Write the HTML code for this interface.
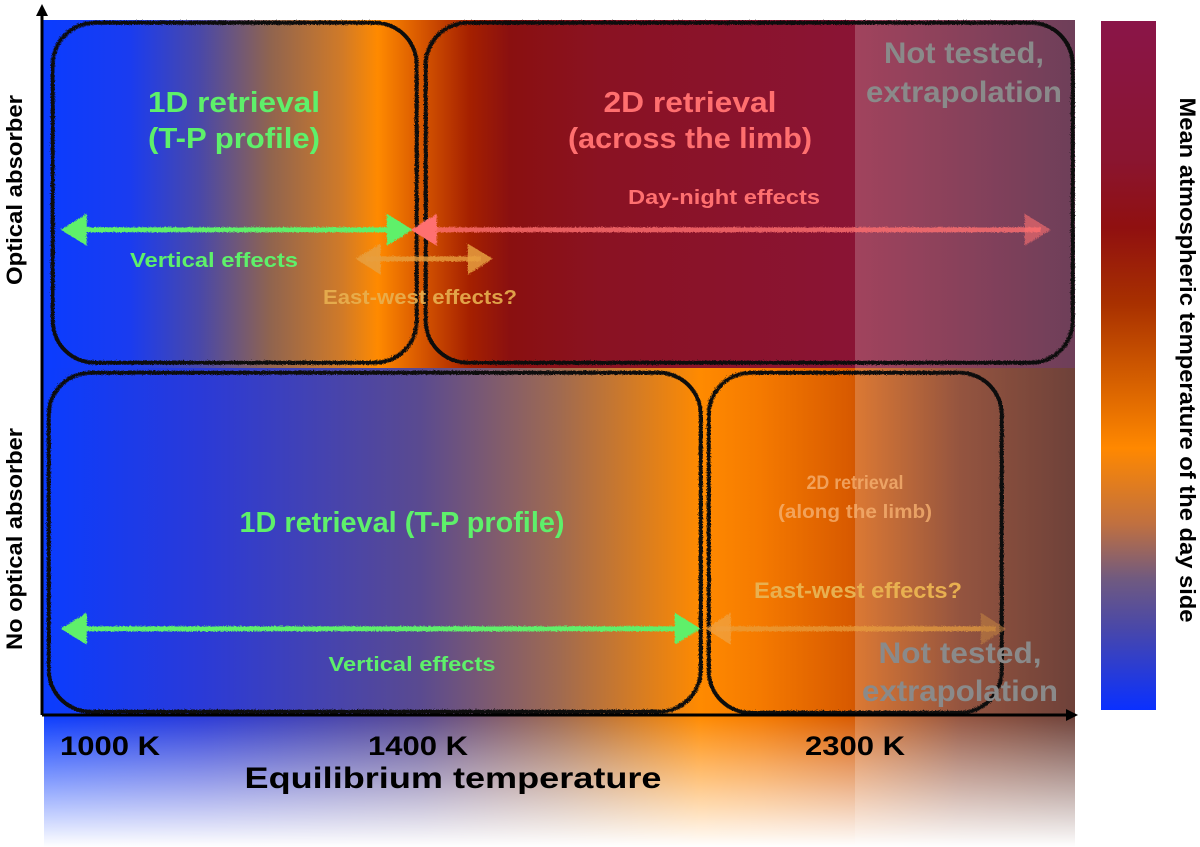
<!DOCTYPE html>
<html><head><meta charset="utf-8"><style>
html,body{margin:0;padding:0;background:#fff;}
svg{display:block;font-family:"Liberation Sans",sans-serif;font-weight:bold;}
</style></head><body>
<svg width="1200" height="847" viewBox="0 0 1200 847">
<defs>
<linearGradient id="gTop" x1="42" x2="1075" y1="0" y2="0" gradientUnits="userSpaceOnUse">
<stop offset="0" stop-color="#0a3cff"/><stop offset="0.085" stop-color="#1a3cf0"/>
<stop offset="0.153" stop-color="#4a48a8"/><stop offset="0.221" stop-color="#90644f"/>
<stop offset="0.29" stop-color="#d07a28"/><stop offset="0.325" stop-color="#ff8a00"/>
<stop offset="0.366" stop-color="#d85800"/><stop offset="0.414" stop-color="#a52000"/>
<stop offset="0.453" stop-color="#8a1010"/><stop offset="0.54" stop-color="#8a1222"/>
<stop offset="0.787" stop-color="#8a1435"/><stop offset="1" stop-color="#4a1030"/>
</linearGradient>
<linearGradient id="gBot" x1="42" x2="1075" y1="0" y2="0" gradientUnits="userSpaceOnUse">
<stop offset="0" stop-color="#0a3cff"/><stop offset="0.153" stop-color="#2a3ad8"/>
<stop offset="0.366" stop-color="#5a4a90"/><stop offset="0.501" stop-color="#a06a50"/>
<stop offset="0.637" stop-color="#ff8a00"/><stop offset="0.695" stop-color="#f57a00"/>
<stop offset="0.782" stop-color="#d85a00"/><stop offset="0.889" stop-color="#7a2a10"/>
<stop offset="1" stop-color="#4a1208"/>
</linearGradient>
<linearGradient id="gFade" x1="0" x2="0" y1="0" y2="1">
<stop offset="0" stop-color="#fff" stop-opacity="0"/><stop offset="1" stop-color="#fff" stop-opacity="1"/>
</linearGradient>
<linearGradient id="gBar" x1="0" x2="0" y1="0" y2="1">
<stop offset="0" stop-color="#8a1548"/><stop offset="0.2" stop-color="#8a1530"/>
<stop offset="0.3" stop-color="#901010"/><stop offset="0.41" stop-color="#a83000"/>
<stop offset="0.51" stop-color="#d05a00"/><stop offset="0.62" stop-color="#ff8800"/>
<stop offset="0.73" stop-color="#c07040"/><stop offset="0.81" stop-color="#705a80"/>
<stop offset="0.88" stop-color="#4a48a8"/><stop offset="1" stop-color="#0a30ff"/>
</linearGradient>
<filter id="rough"><feTurbulence baseFrequency="0.9" numOctaves="2" result="t"/><feDisplacementMap in="SourceGraphic" in2="t" scale="3"/></filter>
</defs>

<rect x="42" y="20" width="1033" height="348" fill="url(#gTop)"/>
<rect x="42" y="368" width="1033" height="347" fill="url(#gBot)"/>
<rect x="44" y="715" width="1031" height="132" fill="url(#gBot)"/>
<rect x="44" y="715" width="1031" height="132" fill="url(#gFade)"/>
<rect x="855" y="20" width="220" height="827" fill="#fff" fill-opacity="0.2"/>

<g filter="url(#rough)" fill="none" stroke="#111" stroke-width="4">
<rect x="52" y="22" width="364" height="340" rx="42"/>
<rect x="425" y="22" width="647" height="340" rx="42"/>
<rect x="48" y="372" width="652" height="339" rx="42"/>
<rect x="708" y="372" width="293" height="340" rx="42"/>
</g>

<g filter="url(#rough)">
<line x1="70" y1="229" x2="400" y2="229" stroke="#5ef06a" stroke-width="5"/>
<polygon points="60,229 86,213 86,245" fill="#5ef06a"/><polygon points="412,229 386,213 386,245" fill="#5ef06a"/>
<line x1="420" y1="229" x2="1040" y2="229" stroke="#ff6f6f" stroke-opacity="0.8" stroke-width="5"/>
<polygon points="410,229 436,213 436,245" fill="#ff6f6f"/><polygon points="1050,229 1024,213 1024,245" fill="#ff6f6f" fill-opacity="0.6"/>
<line x1="365" y1="258" x2="480" y2="258" stroke="#e8a040" stroke-opacity="0.8" stroke-width="5"/>
<polygon points="355,258 380,243 380,274" fill="#e8a040" fill-opacity="0.85"/><polygon points="492,258 467,243 467,274" fill="#e8a040" fill-opacity="0.85"/>
<line x1="70" y1="628" x2="690" y2="628" stroke="#5ef06a" stroke-width="5"/>
<polygon points="60,628 86,612 86,644" fill="#5ef06a"/><polygon points="700,628 674,612 674,644" fill="#5ef06a"/>
<line x1="715" y1="628" x2="995" y2="628" stroke="#e8a040" stroke-opacity="0.7" stroke-width="5"/>
<polygon points="705,628 730,612 730,644" fill="#f0a040" fill-opacity="0.8"/><polygon points="1005,628 980,612 980,644" fill="#c08040" fill-opacity="0.6"/>
</g>

<g>
<line x1="42" y1="715" x2="42" y2="12" stroke="#000" stroke-width="3"/>
<polygon points="42,4 36,16 48,16" fill="#000"/>
<line x1="42" y1="715" x2="1068" y2="715" stroke="#000" stroke-width="3"/>
<polygon points="1078,715 1066,709 1066,721" fill="#000"/>
</g>

<g text-anchor="middle" lengthAdjust="spacingAndGlyphs">
<text x="234" y="112" font-size="29" fill="#5ef06a" textLength="172" lengthAdjust="spacingAndGlyphs">1D retrieval</text>
<text x="234" y="148" font-size="29" fill="#5ef06a" textLength="172" lengthAdjust="spacingAndGlyphs">(T-P profile)</text>
<text x="690" y="112" font-size="29" fill="#ff6f6f" textLength="173" lengthAdjust="spacingAndGlyphs">2D retrieval</text>
<text x="690" y="148" font-size="29" fill="#ff6f6f" textLength="244" lengthAdjust="spacingAndGlyphs">(across the limb)</text>
<text x="964" y="63" font-size="30" fill="#8a8a8a" textLength="160" lengthAdjust="spacingAndGlyphs">Not tested,</text>
<text x="964" y="102" font-size="30" fill="#8a8a8a" textLength="196" lengthAdjust="spacingAndGlyphs">extrapolation</text>
<text x="724" y="204" font-size="20" fill="#ff7070" textLength="192" lengthAdjust="spacingAndGlyphs">Day-night effects</text>
<text x="214" y="267" font-size="20" fill="#5ef06a" textLength="168" lengthAdjust="spacingAndGlyphs">Vertical effects</text>
<text x="420" y="304" font-size="20" fill="#e8b050" fill-opacity="0.9" textLength="194" lengthAdjust="spacingAndGlyphs">East-west effects?</text>
<text x="402" y="532" font-size="29" fill="#5ef06a" textLength="325" lengthAdjust="spacingAndGlyphs">1D retrieval (T-P profile)</text>
<text x="855" y="489" font-size="19" fill="#f5b070" fill-opacity="0.8" textLength="97" lengthAdjust="spacingAndGlyphs">2D retrieval</text>
<text x="855" y="518" font-size="19" fill="#f5b070" fill-opacity="0.8" textLength="154" lengthAdjust="spacingAndGlyphs">(along the limb)</text>
<text x="858" y="598" font-size="22" fill="#e8b050" textLength="208" lengthAdjust="spacingAndGlyphs">East-west effects?</text>
<text x="412" y="671" font-size="20" fill="#5ef06a" textLength="167" lengthAdjust="spacingAndGlyphs">Vertical effects</text>
<text x="960" y="663" font-size="30" fill="#8a8a8a" textLength="163" lengthAdjust="spacingAndGlyphs">Not tested,</text>
<text x="960" y="701" font-size="30" fill="#8a8a8a" textLength="196" lengthAdjust="spacingAndGlyphs">extrapolation</text>
<g id="ticks"></g>
<text x="453" y="788" font-size="30" fill="#000" textLength="417" lengthAdjust="spacingAndGlyphs">Equilibrium temperature</text>
<text transform="translate(22,190) rotate(-90)" font-size="22" fill="#000" textLength="190" lengthAdjust="spacingAndGlyphs">Optical absorber</text>
<text transform="translate(22,539) rotate(-90)" font-size="22" fill="#000" textLength="222" lengthAdjust="spacingAndGlyphs">No optical absorber</text>
<text transform="translate(1180,360) rotate(90)" font-size="22" fill="#000" textLength="525" lengthAdjust="spacingAndGlyphs">Mean atmospheric temperature of the day side</text>
</g>
<rect x="1101" y="21" width="55" height="689" fill="url(#gBar)"/>
</svg>
<script>
const tickLabels = ["1000 K", "1400 K", "2300 K"];
const tickTemps = [1000, 1400, 2300];
function xScale(t){ if(t<=1400) return 110 + (t-1000)/400*308; return 418 + (t-1400)/900*437; }
const g = document.getElementById('ticks');
tickLabels.forEach((lab,i)=>{
  const t = document.createElementNS('http://www.w3.org/2000/svg','text');
  
  
  t.setAttribute('x', xScale(tickTemps[i]));
  t.setAttribute('y', 755);
  t.setAttribute('font-size', '27');
  t.setAttribute('textLength', '100');
  t.setAttribute('lengthAdjust', 'spacingAndGlyphs');
  t.setAttribute('fill', '#000');
  t.textContent = lab;
  g.appendChild(t);
});
</script>
</body></html>
